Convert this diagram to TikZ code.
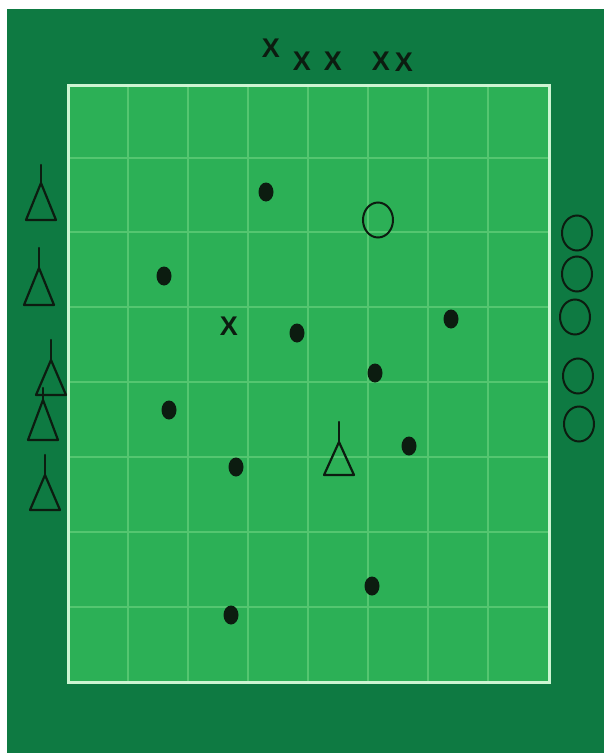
\documentclass[tikz,border=0pt]{standalone}
\usepackage{fontspec}
\setmainfont{Liberation Sans}
\usetikzlibrary{shapes.geometric}
\definecolor{bgdark}{RGB}{14,122,66}
\definecolor{fieldgreen}{RGB}{44,176,86}
\definecolor{gridline}{RGB}{84,198,112}
\definecolor{fieldline}{RGB}{205,245,210}
\definecolor{ink}{RGB}{12,28,16}
\tikzset{
  dotball/.style={ellipse, fill=ink, inner sep=0pt, minimum width=15pt, minimum height=19pt},
  ring/.style={ellipse, draw=ink, line width=2pt, inner sep=0pt, minimum width=30pt, minimum height=35pt},
  cross/.style={text=ink, font=\fontsize{27}{27}\selectfont\bfseries, inner sep=0pt},
  conepath/.style={draw=ink, line width=2.2pt, line join=round, line cap=round},
}
\newcommand\drawcone[4]{% cx, sticktop, apex, base
  \draw[conepath] (#1,#2) -- (#1,#3);
  \draw[conepath] (#1,#3) -- (#1-15,#4) -- (#1+15,#4) -- cycle;
}
\begin{document}
\begin{tikzpicture}[x=1pt,y=-1pt]
\useasboundingbox (0,0) rectangle (604,753);
\fill[white] (0,0) rectangle (604,753);
\fill[bgdark] (7,9) rectangle (604,753);
% field
\fill[fieldgreen] (68,85) rectangle (549,682);
\foreach \x in {128,188,248,308,368,428,488}
  \draw[gridline, line width=1.3pt] (\x,86) -- (\x,681);
\foreach \y in {158,232,307,382,457,532,607}
  \draw[gridline, line width=1.3pt] (69,\y) -- (548,\y);
\draw[fieldline, line width=3pt] (68,85) rectangle (549,682);
% crosses on top
\node[cross] (x1) at (271,48) {X};
\node[cross] (x2) at (302,61) {X};
\node[cross] (x3) at (333,61) {X};
\node[cross] (x4) at (381,61) {X};
\node[cross] (x5) at (404,62) {X};
\node[cross] (x6) at (229,326) {X};
% left cones
\drawcone{41}{165}{183}{220}
\drawcone{39}{248}{268}{305}
\drawcone{51}{340}{360}{395}
\drawcone{43}{388}{400}{440}
\drawcone{45}{455}{475}{510}
% cone in field
\drawcone{339}{422}{442}{475}
% rings on the right
\node[ring] (r1) at (577,233) {};
\node[ring] (r2) at (577,274) {};
\node[ring] (r3) at (575,317) {};
\node[ring] (r4) at (578,376) {};
\node[ring] (r5) at (579,424) {};
% ring in field
\node[ring] (r6) at (378,220) {};
% balls
\node[dotball] (b1) at (266,192) {};
\node[dotball] (b2) at (164,276) {};
\node[dotball] (b3) at (297,333) {};
\node[dotball] (b4) at (451,319) {};
\node[dotball] (b5) at (375,373) {};
\node[dotball] (b6) at (169,410) {};
\node[dotball] (b7) at (409,446) {};
\node[dotball] (b8) at (236,467) {};
\node[dotball] (b9) at (372,586) {};
\node[dotball] (b10) at (231,615) {};
\end{tikzpicture}
\end{document}
